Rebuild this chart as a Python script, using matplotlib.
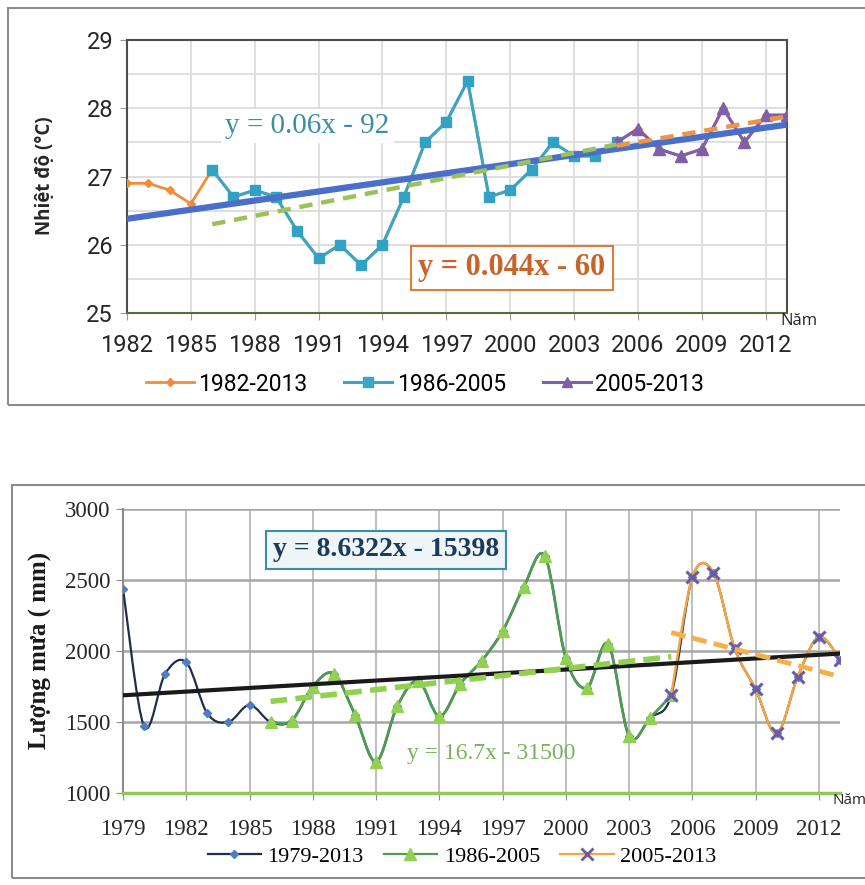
import numpy as np
import matplotlib
matplotlib.use("Agg")
import matplotlib.pyplot as plt
from matplotlib.path import Path
from matplotlib.patches import PathPatch, Rectangle
from matplotlib.lines import Line2D

# ---- du lieu nhiet do (tren) ----
temp_years = list(range(1982, 2014))
temp_1982_2013 = [26.9, 26.9, 26.8, 26.6, 27.1, 26.7, 26.8, 26.7, 26.2, 25.8,
                  26.0, 25.7, 26.0, 26.7, 27.5, 27.8, 28.4, 26.7, 26.8, 27.1,
                  27.5, 27.3, 27.3, 27.5, 27.7, 27.4, 27.3, 27.4, 28.0, 27.5,
                  27.9, 27.9]
temp_years_86_05 = list(range(1986, 2006))
temp_1986_2005 = [27.1, 26.7, 26.8, 26.7, 26.2, 25.8, 26.0, 25.7, 26.0, 26.7,
                  27.5, 27.8, 28.4, 26.7, 26.8, 27.1, 27.5, 27.3, 27.3, 27.5]
temp_years_05_13 = list(range(2005, 2014))
temp_2005_2013 = [27.5, 27.7, 27.4, 27.3, 27.4, 28.0, 27.5, 27.9, 27.9]

# duong xu the: (nam dau, nam cuoi), (gia tri dau, gia tri cuoi)
temp_trend_all = ([1982, 2013], [26.38, 27.76])
temp_trend_86_05 = ([1986, 2005], [26.3, 27.47])
temp_trend_05_13 = ([2005, 2013], [27.45, 27.88])

# ---- du lieu luong mua (duoi) ----
rain_years = list(range(1979, 2014))
rain_1979_2013 = [2440, 1470, 1840, 1920, 1560, 1500, 1620,
                  1500, 1510, 1750, 1840, 1550, 1220, 1610, 1790, 1540, 1770,
                  1930, 2140, 2450, 2670, 1950, 1740, 2050, 1400, 1530, 1690,
                  2520, 2550, 2020, 1730, 1420, 1820, 2100, 1940]
rain_years_86_05 = list(range(1986, 2006))
rain_1986_2005 = [1500, 1510, 1750, 1840, 1550, 1220, 1610, 1790, 1540, 1770,
                  1930, 2140, 2450, 2670, 1950, 1740, 2050, 1400, 1530, 1690]
rain_years_05_13 = list(range(2005, 2014))
rain_2005_2013 = [1690, 2520, 2550, 2020, 1730, 1420, 1820, 2100, 1940]

rain_trend_all = ([1979, 2013], [1688, 1982])
rain_trend_86_05 = ([1986, 2005], [1645, 1960])
rain_trend_05_13 = ([2005, 2013], [2130, 1820])

SANS = ['Roboto', 'DejaVu Sans']
SERIF = ['Liberation Serif', 'DejaVu Serif']


def smooth_path(x, y):
    # duong cong tron kieu Excel (Catmull-Rom -> Bezier)
    pts = np.column_stack([np.asarray(x, float), np.asarray(y, float)])
    verts = [pts[0]]
    codes = [Path.MOVETO]
    n = len(pts)
    for i in range(n - 1):
        p0 = pts[i - 1] if i > 0 else pts[i]
        p1 = pts[i]
        p2 = pts[i + 1]
        p3 = pts[i + 2] if i + 2 < n else pts[i + 1]
        verts += [p1 + (p2 - p0) / 6.0, p2 - (p3 - p1) / 6.0, p2]
        codes += [Path.CURVE4] * 3
    return Path(verts, codes)


fig = plt.figure(figsize=(8.65, 8.85), dpi=100)
W, H = 865.0, 885.0

# khung ngoai
fig.add_artist(Rectangle((8 / W, 1 - 405 / H), 870 / W, 397 / H, transform=fig.transFigure,
                         fill=False, edgecolor='#8c8c8c', lw=1.5))
fig.add_artist(Rectangle((12 / W, 1 - 878 / H), 870 / W, 393 / H, transform=fig.transFigure,
                         fill=False, edgecolor='#8c8c8c', lw=1.5))

# ================= bieu do nhiet do =================
ax1 = fig.add_axes([127 / W, 1 - 313 / H, 660 / W, 273 / H])
ax1.set_xlim(1982, 2013)
ax1.set_ylim(25, 29)
ax1.set_yticks([25, 26, 27, 28, 29])
ax1.set_yticks([25.5, 26.5, 27.5, 28.5], minor=True)
ax1.set_xticks(list(range(1982, 2013, 3)))
ax1.grid(True, which='both', color='#d9d9d9', lw=1.2)
ax1.set_axisbelow(True)
for s in ['top', 'right', 'left', 'bottom']:
    ax1.spines[s].set_color('#4d4d4d')
    ax1.spines[s].set_linewidth(1.5)
ax1.spines['bottom'].set_color('#5a6b3c')
ax1.tick_params(axis='both', which='major', length=5, color='#999999', labelsize=17)
ax1.tick_params(axis='x', pad=10)
ax1.tick_params(axis='y', pad=5)
ax1.tick_params(axis='y', which='minor', length=0)
for lab in ax1.get_xticklabels() + ax1.get_yticklabels():
    lab.set_family(SANS)
    lab.set_color('#262626')

ax1.plot(temp_years, temp_1982_2013, color='#f08c3a', lw=2, marker='D', ms=4.5, zorder=3)
ax1.plot(temp_years_86_05, temp_1986_2005, color='#3aa6c4', lw=2.2, marker='s', ms=6.5,
         mfc='#31a2c4', mec='#31a2c4', zorder=4)
ax1.plot(temp_years_05_13, temp_2005_2013, color='#7f5fa8', lw=2.2, marker='^', ms=8,
         zorder=5)
ax1.plot(*temp_trend_all, color='#4a6fc8', lw=4.5, zorder=6, solid_capstyle='butt')
ax1.plot(*temp_trend_86_05, color='#9bc25a', lw=3.2, ls=(0, (3, 2)), zorder=6)
ax1.plot(*temp_trend_05_13, color='#f0924a', lw=3.2, ls=(0, (3, 2)), zorder=6)

fig.text(307 / W, 1 - 126 / H, 'y = 0.06x - 92', ha='center', va='center',
         fontsize=21, family=SERIF, color='#3b8ea5',
         bbox=dict(boxstyle='square,pad=0.15', fc='white', ec='none'), zorder=7)
fig.text(512 / W, 1 - 268 / H, 'y = 0.044x - 60', ha='center', va='center',
         fontsize=22, family=SERIF, fontweight='bold', color='#c8642a',
         bbox=dict(boxstyle='square,pad=0.25', fc='white', ec='#e07b39', lw=1.5), zorder=7)

fig.text(45 / W, 1 - 176 / H, 'Nhiệt độ (°C)', rotation=90, ha='center', va='center',
         fontsize=13.5, fontweight='bold', family=['Open Sans', 'DejaVu Sans'], color='#262626')
fig.text(780 / W, 1 - 321 / H, 'Năm', ha='left', va='center', fontsize=12,
         family=['Open Sans', 'DejaVu Sans'], color='#262626')

h1 = [Line2D([], [], color='#f08c3a', lw=2, marker='D', ms=4.5),
      Line2D([], [], color='#3aa6c4', lw=2.2, marker='s', ms=6.5),
      Line2D([], [], color='#7f5fa8', lw=2.2, marker='^', ms=7)]
fig.legend(h1, ['1982-2013', '1986-2005', '2005-2013'], loc='center',
           bbox_to_anchor=(425 / W, 1 - 384 / H), ncol=3, frameon=False,
           prop={'family': SANS, 'size': 16.5}, handlelength=2.1, handletextpad=0.2,
           columnspacing=1.6)

# ================= bieu do luong mua =================
ax2 = fig.add_axes([123 / W, 1 - 793 / H, 717 / W, 284 / H])
ax2.set_xlim(1979, 2013)
ax2.set_ylim(1000, 3000)
ax2.set_yticks([1000, 1500, 2000, 2500, 3000])
ax2.set_xticks(list(range(1979, 2013, 3)))
ax2.grid(True, axis='y', color='#a6a6a6', lw=1.8)
ax2.grid(True, axis='x', color='#b3b3b3', lw=1.2)
ax2.set_axisbelow(True)
ax2.spines['top'].set_visible(False)
ax2.spines['right'].set_visible(False)
ax2.spines['left'].set_color('#8c8c8c')
ax2.spines['left'].set_linewidth(1.5)
ax2.spines['bottom'].set_color('#92c857')
ax2.spines['bottom'].set_linewidth(2.5)
ax2.tick_params(axis='both', length=5, color='#8c8c8c', labelsize=16.5)
ax2.tick_params(axis='x', pad=14)
ax2.tick_params(axis='y', pad=4)
for lab in ax2.get_xticklabels() + ax2.get_yticklabels():
    lab.set_family(SERIF)
    lab.set_color('#262626')

ax2.add_patch(PathPatch(smooth_path(rain_years, rain_1979_2013), fill=False,
                        edgecolor='#1f2d4f', lw=1.6, zorder=3))
ax2.plot(rain_years, rain_1979_2013, ls='none', marker='D', ms=4.5, color='#4f7fc0', zorder=3)
ax2.add_patch(PathPatch(smooth_path(rain_years_86_05, rain_1986_2005), fill=False,
                        edgecolor='#4f9a55', lw=2.0, zorder=4))
ax2.plot(rain_years_86_05, rain_1986_2005, ls='none', marker='^', ms=8,
         mfc='#92d050', mec='#92d050', zorder=4)
ax2.add_patch(PathPatch(smooth_path(rain_years_05_13, rain_2005_2013), fill=False,
                        edgecolor='#f2a541', lw=1.8, zorder=5))
ax2.plot(rain_years_05_13, rain_2005_2013, ls='none', marker='x', ms=9, mew=2.2,
         color='#6a5aa8', zorder=5)
ax2.plot(*rain_trend_all, color='#1a1a1a', lw=3, zorder=6)
ax2.plot(*rain_trend_86_05, color='#92d050', lw=4, ls=(0, (3, 1.5)), zorder=6)
ax2.plot(*rain_trend_05_13, color='#f5b04a', lw=3.5, ls=(0, (3, 1.5)), zorder=6)

fig.text(386 / W, 1 - 550 / H, 'y = 8.6322x - 15398', ha='center', va='center',
         fontsize=20, family=SERIF, fontweight='bold', color='#1b3a5c',
         bbox=dict(boxstyle='square,pad=0.25', fc='#eef6f9', ec='#3a8ea8', lw=1.5), zorder=7)
fig.text(491 / W, 1 - 754 / H, 'y = 16.7x - 31500', ha='center', va='center',
         fontsize=17, family=SERIF, color='#76b35c', zorder=7)

fig.text(40 / W, 1 - 650 / H, 'Lượng mưa ( mm)', rotation=90, ha='center', va='center',
         fontsize=18, fontweight='bold', family=SERIF, color='#1a1a1a')
fig.text(832 / W, 1 - 801 / H, 'Năm', ha='left', va='center', fontsize=11,
         family=['Open Sans', 'DejaVu Sans'], color='#262626')

h2 = [Line2D([], [], color='#1f2d4f', lw=1.6, marker='D', ms=4, mfc='#4f7fc0', mec='#4f7fc0'),
      Line2D([], [], color='#4f9a55', lw=1.6, marker='^', ms=8, mfc='#92d050', mec='#92d050'),
      Line2D([], [], color='#f2a541', lw=1.6, marker='x', ms=8, mew=2, mec='#6a5aa8')]
fig.legend(h2, ['1979-2013', '1986-2005', '2005-2013'], loc='center',
           bbox_to_anchor=(462 / W, 1 - 857 / H), ncol=3, frameon=False,
           prop={'family': SERIF, 'size': 16}, handlelength=2.4, handletextpad=0.3,
           columnspacing=0.9)

fig.savefig('out.png', dpi=100)
